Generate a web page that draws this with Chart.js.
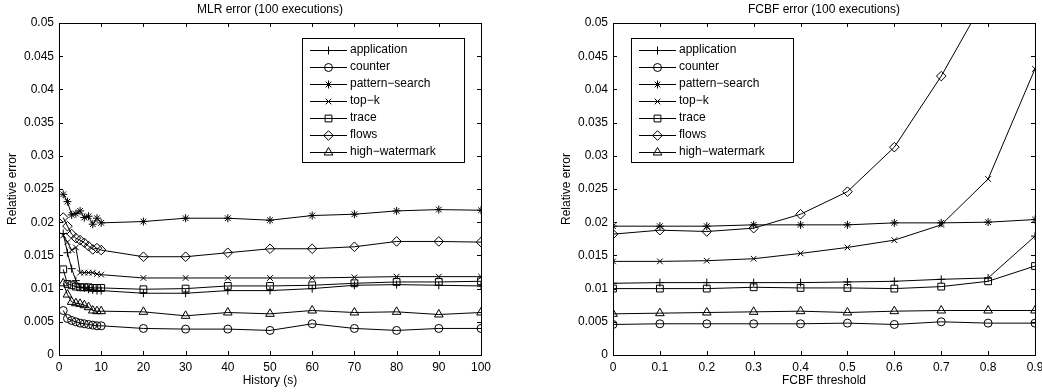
<!DOCTYPE html>
<html>
<head>
<meta charset="utf-8">
<script src="https://cdn.jsdelivr.net/npm/chart.js@4/dist/chart.umd.min.js"></script>
<style>
  html, body { margin: 0; padding: 0; background: #fff; overflow: hidden; }
  body { position: relative; width: 1042px; height: 392px; }
  canvas { position: absolute; top: 0; }
  #mlr { left: 0; }
  #fcbf { left: 554px; }
</style>
</head>
<body>
<canvas id="mlr" width="521" height="392"></canvas>
<canvas id="fcbf" width="521" height="392"></canvas>
<script>
// Series names (MATLAB-style minus signs in the labels)
const seriesNames = ['application', 'counter', 'pattern\u2212search', 'top\u2212k', 'trace', 'flows', 'high\u2212watermark'];

// MLR: history window in seconds
const historySeconds = [1, 2, 3, 4, 5, 6, 7, 8, 9, 10, 20, 30, 40, 50, 60, 70, 80, 90, 100];
const mlrApplication   = [0.0183, 0.0154, 0.0130, 0.0112, 0.0102, 0.0101, 0.0099, 0.0098, 0.0097, 0.0097, 0.0093, 0.0093, 0.0097, 0.0097, 0.0100, 0.0105, 0.0106, 0.0105, 0.0104];
const mlrCounter       = [0.0067, 0.0055, 0.0052, 0.0050, 0.0048, 0.0047, 0.0046, 0.0045, 0.0044, 0.0044, 0.0040, 0.0039, 0.0039, 0.0037, 0.0047, 0.0040, 0.0037, 0.0040, 0.0040];
const mlrPattern       = [0.0242, 0.0231, 0.0211, 0.0213, 0.0217, 0.0207, 0.0209, 0.0197, 0.0206, 0.0199, 0.0201, 0.0206, 0.0206, 0.0203, 0.0210, 0.0212, 0.0217, 0.0219, 0.0218];
const mlrTopK          = [0.0180, 0.0170, 0.0158, 0.0162, 0.0124, 0.0124, 0.0124, 0.0124, 0.0122, 0.0121, 0.0116, 0.0116, 0.0116, 0.0116, 0.0116, 0.0117, 0.0118, 0.0118, 0.0118];
const mlrTrace         = [0.0129, 0.0107, 0.0105, 0.0103, 0.0102, 0.0102, 0.0102, 0.0101, 0.0101, 0.0101, 0.0099, 0.0100, 0.0104, 0.0104, 0.0105, 0.0108, 0.0110, 0.0110, 0.0111];
const mlrFlows         = [0.0207, 0.0194, 0.0182, 0.0176, 0.0173, 0.0169, 0.0164, 0.0159, 0.0161, 0.0158, 0.0148, 0.0148, 0.0154, 0.0160, 0.0160, 0.0163, 0.0171, 0.0171, 0.0170];
const mlrHighWatermark = [0.0108, 0.0091, 0.0080, 0.0078, 0.0077, 0.0075, 0.0072, 0.0067, 0.0066, 0.0066, 0.0065, 0.0059, 0.0064, 0.0062, 0.0067, 0.0064, 0.0065, 0.0061, 0.0064];

// FCBF: threshold
const fcbfThreshold     = [0, 0.1, 0.2, 0.3, 0.4, 0.5, 0.6, 0.7, 0.8, 0.9];
const fcbfApplication   = [0.0108, 0.0109, 0.0109, 0.0109, 0.0109, 0.0110, 0.0111, 0.0114, 0.0116, 0.0179];
const fcbfCounter       = [0.0046, 0.0047, 0.0047, 0.0047, 0.0047, 0.0048, 0.0046, 0.0050, 0.0048, 0.0048];
const fcbfPattern       = [0.0194, 0.0194, 0.0194, 0.0196, 0.0196, 0.0196, 0.0199, 0.0199, 0.0200, 0.0204];
const fcbfTopK          = [0.0141, 0.0141, 0.0142, 0.0145, 0.0153, 0.0162, 0.0173, 0.0196, 0.0265, 0.0431];
const fcbfTrace         = [0.0100, 0.0100, 0.0100, 0.0102, 0.0101, 0.0101, 0.0100, 0.0103, 0.0111, 0.0134];
const fcbfFlows         = [0.0182, 0.0188, 0.0186, 0.0191, 0.0212, 0.0246, 0.0313, 0.0420, 0.0545, 0.0700];
const fcbfHighWatermark = [0.0062, 0.0063, 0.0064, 0.0065, 0.0066, 0.0064, 0.0066, 0.0067, 0.0067, 0.0067];

// Marker style for each series, in legend order
const markerStyles = [
  { pointStyle: 'cross',    radius: 4 },
  { pointStyle: 'circle',   radius: 4 },
  { pointStyle: 'star',     radius: 4 },
  { pointStyle: 'crossRot', radius: 4 },
  { pointStyle: 'rect',     radius: 4.8 },
  { pointStyle: 'rectRot',  radius: 4.8 },
  { pointStyle: 'triangle', radius: 5 }
];

const FONT = '"Liberation Sans", Arial, Helvetica, sans-serif';
const INK = '#000';

function makeDatasets(xs, seriesList) {
  return seriesList.map((ys, i) => ({
    label: seriesNames[i],
    data: xs.map((x, j) => ({ x: x, y: ys[j] })),
    borderColor: INK,
    borderWidth: 1,
    pointStyle: markerStyles[i].pointStyle,
    pointRadius: markerStyles[i].radius,
    pointHoverRadius: markerStyles[i].radius,
    pointBorderColor: INK,
    pointBackgroundColor: 'rgba(0,0,0,0)',
    pointBorderWidth: 1,
    tension: 0,
    fill: false
  }));
}

// Box frame, inward ticks, titles and the boxed legend
const matlabFrame = {
  id: 'matlabFrame',
  afterDraw(chart, args, opts) {
    const ctx = chart.ctx;
    const a = chart.chartArea;
    const xs = chart.scales.x, ys = chart.scales.y;
    ctx.save();
    ctx.strokeStyle = INK;
    ctx.lineWidth = 1;
    // axes box
    ctx.strokeRect(Math.round(a.left) + 0.5, Math.round(a.top) + 0.5,
                   Math.round(a.right - a.left), Math.round(a.bottom - a.top));
    // inward ticks on all four sides
    const tl = 4;
    ctx.beginPath();
    xs.ticks.forEach(t => {
      const px = Math.round(xs.getPixelForValue(t.value)) + 0.5;
      ctx.moveTo(px, a.bottom); ctx.lineTo(px, a.bottom - tl);
      ctx.moveTo(px, a.top); ctx.lineTo(px, a.top + tl);
    });
    ys.ticks.forEach(t => {
      const py = Math.round(ys.getPixelForValue(t.value)) + 0.5;
      ctx.moveTo(a.left, py); ctx.lineTo(a.left + tl, py);
      ctx.moveTo(a.right, py); ctx.lineTo(a.right - tl, py);
    });
    ctx.stroke();

    // titles
    ctx.fillStyle = INK;
    ctx.font = '12px ' + FONT;
    ctx.textAlign = 'center';
    ctx.textBaseline = 'middle';
    const cx = (a.left + a.right) / 2;
    ctx.fillText(opts.title, cx, 9.5);
    ctx.fillText(opts.xTitle, cx, 381);
    ctx.save();
    ctx.translate(13, (a.top + a.bottom) / 2);
    ctx.rotate(-Math.PI / 2);
    ctx.fillText('Relative error', 0, 0);
    ctx.restore();

    // legend
    const L = opts.legend;
    ctx.fillStyle = '#fff';
    ctx.fillRect(L.x, L.y, L.w, L.h);
    ctx.strokeRect(L.x + 0.5, L.y + 0.5, L.w, L.h);
    ctx.textAlign = 'left';
    chart.data.datasets.forEach((ds, i) => {
      const y = L.y + 11.5 + i * 17;
      const x0 = L.x + 8, x1 = L.x + 45;
      ctx.strokeStyle = INK;
      ctx.lineWidth = 1;
      ctx.beginPath();
      ctx.moveTo(x0, Math.round(y) + 0.5);
      ctx.lineTo(x1, Math.round(y) + 0.5);
      ctx.stroke();
      ctx.fillStyle = 'rgba(0,0,0,0)';
      Chart.helpers.drawPoint(ctx, {
        pointStyle: ds.pointStyle, radius: ds.pointRadius, rotation: 0, borderWidth: 1
      }, (x0 + x1) / 2, Math.round(y) + 0.5);
      ctx.fillStyle = INK;
      ctx.fillText(ds.label, L.x + 48, y);
    });
    ctx.restore();
  }
};

function buildChart(id, xs, seriesList, xMax, xStep, xDigits, title, xTitle, legendX) {
  return new Chart(document.getElementById(id), {
    type: 'line',
    data: { datasets: makeDatasets(xs, seriesList) },
    plugins: [matlabFrame],
    options: {
      responsive: false,
      animation: false,
      events: [],
      layout: { padding: { left: 0, top: 23, right: 40, bottom: 0 } },
      plugins: {
        legend: { display: false },
        tooltip: { enabled: false },
        matlabFrame: {
          title: title, xTitle: xTitle,
          legend: { x: legendX, y: 38, w: 162, h: 124 }
        }
      },
      scales: {
        x: {
          type: 'linear', min: 0, max: xMax,
          grid: { display: false }, border: { display: false },
          ticks: {
            stepSize: xStep, color: INK, padding: -3,
            font: { family: FONT, size: 12 }, maxRotation: 0,
            callback: v => (+v.toFixed(xDigits)).toString()
          },
          afterFit: s => { s.height = 37; }
        },
        y: {
          type: 'linear', min: 0, max: 0.05,
          grid: { display: false }, border: { display: false },
          ticks: {
            stepSize: 0.005, color: INK, padding: -3,
            font: { family: FONT, size: 12 },
            callback: v => (+v.toFixed(3)).toString()
          },
          afterFit: s => { s.width = 59; }
        }
      }
    }
  });
}

buildChart('mlr', historySeconds,
  [mlrApplication, mlrCounter, mlrPattern, mlrTopK, mlrTrace, mlrFlows, mlrHighWatermark],
  100, 10, 0, 'MLR error (100 executions)', 'History (s)', 302);

buildChart('fcbf', fcbfThreshold,
  [fcbfApplication, fcbfCounter, fcbfPattern, fcbfTopK, fcbfTrace, fcbfFlows, fcbfHighWatermark],
  0.9, 0.1, 1, 'FCBF error (100 executions)', 'FCBF threshold', 77);
</script>
</body>
</html>
